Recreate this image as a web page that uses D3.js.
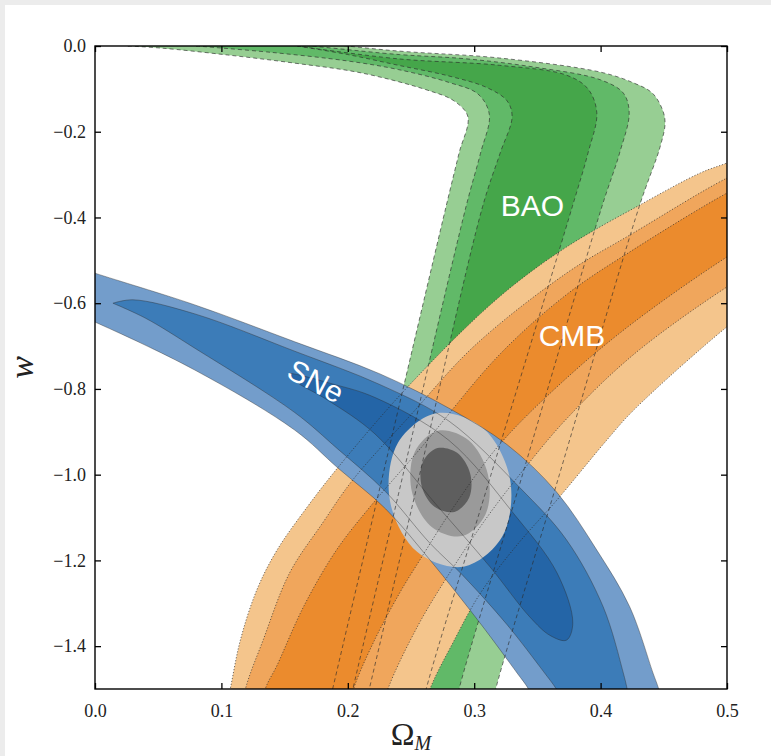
<!DOCTYPE html>
<html>
<head>
<meta charset="utf-8">
<script src="https://cdn.jsdelivr.net/npm/d3@7"></script>
<style>
  html, body { margin: 0; padding: 0; background: #fff; }
  svg { display: block; }
</style>
</head>
<body>
<svg id="chart" width="771" height="756"></svg>
<script>
// ---------- data: points are [Omega_M, w] ----------
const xTicks = [0, 0.1, 0.2, 0.3, 0.4, 0.5];
const yTicks = [0, -0.2, -0.4, -0.6, -0.8, -1.0, -1.2, -1.4];

// BAO: 3 confidence levels (outer -> inner). Each level is bounded by an inner
// edge (lower/left side of the hook) and an outer edge (upper/right side).
const baoInner = [
  [[0.026,0.0],[0.053,-0.005],[0.105,-0.021],[0.158,-0.040],[0.211,-0.063],[0.263,-0.103],[0.284,-0.128],[0.295,-0.165],[0.288,-0.25],[0.2777,-0.375],[0.2278,-1.0],[0.188,-1.5],[0.180,-1.6]],
  [[0.08,0.0],[0.14,-0.015],[0.20,-0.035],[0.24,-0.055],[0.28,-0.085],[0.303,-0.112],[0.312,-0.16],[0.305,-0.25],[0.2935,-0.375],[0.2437,-1.0],[0.204,-1.5],[0.196,-1.6]],
  [[0.16,0.0],[0.20,-0.02],[0.24,-0.045],[0.28,-0.07],[0.31,-0.097],[0.326,-0.128],[0.330,-0.165],[0.3205,-0.25],[0.3066,-0.375],[0.2568,-1.0],[0.217,-1.5],[0.209,-1.6]]
];
const baoOuter = [
  [[0.026,0.0],[0.05,0.012],[0.15,0.012],[0.241,-0.012],[0.320,-0.028],[0.400,-0.061],[0.426,-0.086],[0.441,-0.110],[0.449,-0.149],[0.451,-0.18],[0.447,-0.236],[0.4305,-0.375],[0.3674,-1.0],[0.317,-1.5],[0.309,-1.6]],
  [[0.08,0.0],[0.12,0.01],[0.241,-0.02],[0.294,-0.03],[0.347,-0.049],[0.40,-0.079],[0.418,-0.11],[0.4226,-0.156],[0.415,-0.25],[0.401,-0.375],[0.3382,-1.0],[0.288,-1.5],[0.280,-1.6]],
  [[0.16,0.0],[0.24,-0.03],[0.320,-0.045],[0.373,-0.068],[0.390,-0.10],[0.397,-0.156],[0.39,-0.25],[0.3776,-0.375],[0.3133,-1.0],[0.262,-1.5],[0.254,-1.6]]
];

// CMB: 3 levels, upper-left edge and lower-right edge of each band
const cmbUpper = [
  [[0.100,-1.6],[0.107,-1.5],[0.115,-1.386],[0.128,-1.269],[0.144,-1.176],[0.168,-1.075],[0.192,-0.984],[0.249,-0.79],[0.320,-0.585],[0.373,-0.469],[0.434,-0.366],[0.479,-0.296],[0.5,-0.273],[0.53,-0.24]],
  [[0.113,-1.6],[0.119,-1.5],[0.133,-1.386],[0.154,-1.229],[0.180,-1.113],[0.204,-1.012],[0.25,-0.86],[0.30,-0.70],[0.373,-0.53],[0.426,-0.436],[0.5,-0.308],[0.53,-0.27]],
  [[0.128,-1.6],[0.1347,-1.5],[0.144,-1.445],[0.165,-1.308],[0.191,-1.176],[0.2176,-1.075],[0.26,-0.93],[0.320,-0.72],[0.373,-0.58],[0.426,-0.475],[0.5,-0.343],[0.53,-0.30]]
];
const cmbLower = [
  [[0.255,-1.6],[0.265,-1.5],[0.283,-1.393],[0.305,-1.276],[0.335,-1.16],[0.3655,-1.059],[0.405,-0.919],[0.426,-0.85],[0.5,-0.655],[0.53,-0.59]],
  [[0.222,-1.6],[0.2317,-1.5],[0.255,-1.355],[0.2785,-1.239],[0.31,-1.10],[0.34,-0.985],[0.373,-0.87],[0.426,-0.72],[0.5,-0.562],[0.53,-0.51]],
  [[0.196,-1.6],[0.2045,-1.5],[0.220,-1.393],[0.241,-1.276],[0.257,-1.199],[0.285,-1.07],[0.320,-0.93],[0.373,-0.775],[0.426,-0.645],[0.5,-0.492],[0.53,-0.44]]
];

// SNe: outer two levels as bands (upper / lower edge), innermost level as a closed loop
const sneUpper = [
  [[-0.02,-0.51],[0,-0.530],[0.079,-0.604],[0.158,-0.69],[0.2255,-0.765],[0.28,-0.845],[0.326,-0.93],[0.365,-1.04],[0.397,-1.176],[0.423,-1.308],[0.4415,-1.463],[0.446,-1.5],[0.455,-1.6]],
  [[0.0142,-0.600],[0.03,-0.592],[0.079,-0.625],[0.158,-0.712],[0.2255,-0.79],[0.28,-0.875],[0.336,-1.03],[0.373,-1.152],[0.402,-1.308],[0.418,-1.463],[0.421,-1.5],[0.427,-1.6]]
];
const sneLower = [
  [[-0.02,-0.62],[0,-0.644],[0.079,-0.756],[0.158,-0.896],[0.192,-0.984],[0.23,-1.08],[0.265,-1.199],[0.3046,-1.346],[0.334,-1.463],[0.343,-1.5],[0.36,-1.6]],
  [[0.0142,-0.600],[0.04,-0.635],[0.079,-0.705],[0.158,-0.855],[0.192,-0.94],[0.23,-1.04],[0.265,-1.16],[0.291,-1.235],[0.326,-1.35],[0.355,-1.46],[0.365,-1.5],[0.385,-1.6]]
];
const sneCore = [[0.153,-0.765],[0.19,-0.79],[0.2215,-0.82],[0.28,-0.92],[0.331,-1.09],[0.3655,-1.229],[0.378,-1.346],[0.373,-1.386],[0.36,-1.375],[0.344,-1.332],[0.3125,-1.215],[0.27,-1.07],[0.2215,-0.905],[0.184,-0.826],[0.16,-0.785]];

// Combined constraint: 3 closed contours (outer -> inner)
const combined = [
  [[0.2916,-1.2148],[0.3221,-1.1451],[0.3284,-1.0110],[0.3069,-0.8913],[0.2701,-0.8565],[0.2396,-0.9263],[0.2333,-1.0604],[0.2548,-1.1801]],
  [[0.2905,-1.1432],[0.3089,-1.0928],[0.3109,-1.0000],[0.2953,-0.9193],[0.2712,-0.8978],[0.2528,-0.9482],[0.2508,-1.0411],[0.2664,-1.1218]],
  [[0.2844,-1.0868],[0.2960,-1.0541],[0.2968,-0.9972],[0.2865,-0.9491],[0.2710,-0.9380],[0.2594,-0.9706],[0.2585,-1.0275],[0.2689,-1.0756]]
];

const baoColors = ["#97ce93", "#61b968", "#45a64a"];
const cmbColors = ["#f4c58c", "#f0a65c", "#eb8b2d"];
const sneColors = ["#739dcb", "#3c7cb8", "#2465a7"];
const combColors = ["#c8c8c8", "#9a9a9a", "#5e5e5e"];

// ---------- layout ----------
const svg = d3.select("#chart");
const W = 771, H = 756;
const x = d3.scaleLinear().domain([0, 0.5]).range([95, 727]);
const y = d3.scaleLinear().domain([0, -1.5]).range([46, 689]);

// page margins around the figure
svg.append("rect").attr("x", 0).attr("y", 0).attr("width", W).attr("height", H).attr("fill", "#fff");
svg.append("rect").attr("x", 0).attr("y", 0).attr("width", W).attr("height", 5).attr("fill", "#ececec");
svg.append("rect").attr("x", 0).attr("y", 0).attr("width", 5).attr("height", H).attr("fill", "#ececec");

svg.append("defs").append("clipPath").attr("id", "plotclip")
  .append("rect")
  .attr("x", x(0)).attr("y", y(0))
  .attr("width", x(0.5) - x(0)).attr("height", y(-1.5) - y(0));

const openLine = d3.line().x(d => x(d[0])).y(d => y(d[1])).curve(d3.curveCatmullRom.alpha(0.5));
const closedLine = d3.line().x(d => x(d[0])).y(d => y(d[1])).curve(d3.curveCatmullRomClosed.alpha(0.5));
const band = (a, b) => openLine(a.concat(b.slice().reverse())) + "Z";

const plot = svg.append("g").attr("clip-path", "url(#plotclip)");

const baoPaths = baoInner.map((d, i) => band(d, baoOuter[i]));
const cmbPaths = cmbUpper.map((d, i) => band(d, cmbLower[i]));
const snePaths = sneUpper.map((d, i) => band(d, sneLower[i])).concat([closedLine(sneCore)]);
const combPaths = combined.map(d => closedLine(d));

function fills(paths, colors) {
  plot.append("g").selectAll("path").data(paths).join("path")
    .attr("d", d => d).attr("fill", (d, i) => colors[i]).attr("stroke", "none");
}
fills(baoPaths, baoColors);
fills(cmbPaths, cmbColors);
fills(snePaths, sneColors);
fills(combPaths, combColors);

// contour outlines on top of all fills
function outlines(paths, dash, width, opacity) {
  plot.append("g").selectAll("path").data(paths).join("path")
    .attr("d", d => d).attr("fill", "none")
    .attr("stroke", "#2a2a2a").attr("stroke-width", width)
    .attr("stroke-opacity", opacity)
    .attr("stroke-dasharray", dash);
}
outlines(snePaths, null, 0.8, 0.5);
outlines(cmbPaths, "1.2 1.8", 0.9, 0.75);
outlines(baoPaths, "4 3", 0.9, 0.7);

// ---------- labels inside the plot ----------
const tagFont = "'Liberation Sans', Arial, sans-serif";
const tags = [
  { text: "BAO", at: [0.346, -0.371], rot: 0 },
  { text: "CMB", at: [0.3774, -0.674], rot: 0 },
  { text: "SNe", at: [0.1748, -0.781], rot: 28 }
];
svg.append("g").selectAll("text").data(tags).join("text")
  .attr("transform", d => `translate(${x(d.at[0])},${y(d.at[1])}) rotate(${d.rot})`)
  .attr("text-anchor", "middle").attr("dy", "0.36em")
  .attr("fill", "#fff").attr("font-family", tagFont).attr("font-size", 30)
  .text(d => d.text);

// ---------- axes ----------
const tickFont = "'Liberation Serif', 'Times New Roman', serif";
const fmt = d3.format(".1f");

function styleAxis(g) {
  g.select(".domain").remove();
  g.selectAll(".tick line").attr("stroke", "#000").attr("stroke-width", 1.3);
  g.selectAll(".tick text").attr("font-family", tickFont).attr("font-size", 18).attr("fill", "#222");
}

svg.append("g").attr("transform", `translate(0,${y(-1.5)})`)
  .call(d3.axisBottom(x).tickValues(xTicks).tickSize(-6).tickPadding(15).tickFormat(fmt))
  .call(styleAxis);
svg.append("g").attr("transform", `translate(${x(0)},0)`)
  .call(d3.axisLeft(y).tickValues(yTicks).tickSize(-6).tickPadding(9).tickFormat(fmt))
  .call(styleAxis);
svg.append("g").attr("transform", `translate(0,${y(0)})`)
  .call(d3.axisTop(x).tickValues(xTicks).tickSize(-6).tickFormat(""))
  .call(styleAxis);
svg.append("g").attr("transform", `translate(${x(0.5)},0)`)
  .call(d3.axisRight(y).tickValues(yTicks).tickSize(-6).tickFormat(""))
  .call(styleAxis);

// frame
svg.append("rect")
  .attr("x", x(0)).attr("y", y(0))
  .attr("width", x(0.5) - x(0)).attr("height", y(-1.5) - y(0))
  .attr("fill", "none").attr("stroke", "#000").attr("stroke-width", 1.4);

// axis titles
const xTitle = svg.append("text")
  .attr("x", (x(0) + x(0.5)) / 2).attr("y", 745)
  .attr("text-anchor", "middle")
  .attr("font-family", tickFont).attr("fill", "#222");
xTitle.append("tspan").attr("font-size", 32).text("Ω");
xTitle.append("tspan").attr("font-size", 20).attr("font-style", "italic").attr("dy", 5).text("M");

svg.append("text")
  .attr("transform", `translate(33,${y(-0.75)}) rotate(-90)`)
  .attr("text-anchor", "middle")
  .attr("font-family", tickFont).attr("font-style", "italic")
  .attr("font-size", 34).attr("fill", "#222")
  .text("w");
</script>
</body>
</html>
